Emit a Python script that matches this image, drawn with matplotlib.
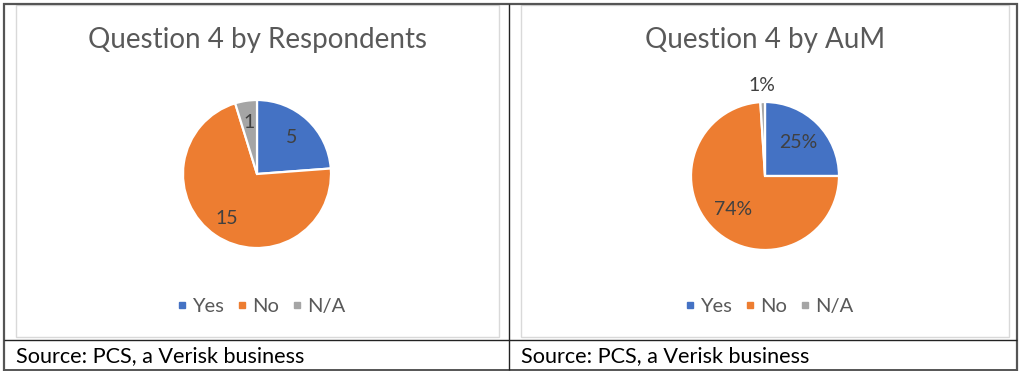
import numpy as np
import matplotlib
matplotlib.use("Agg")
import matplotlib.pyplot as plt
from matplotlib.lines import Line2D
from matplotlib.patches import Rectangle

# ---- data ----
categories = ["Yes", "No", "N/A"]
respondents = [5, 15, 1]
aum_pct = [25, 74, 1]
titles = ["Question 4 by Respondents", "Question 4 by AuM"]
source_text = "Source: PCS, a Verisk business"
colors = ["#4472C4", "#ED7D31", "#A5A5A5"]

plt.rcParams['font.family'] = ['Lato', 'DejaVu Sans']

W, H = 1024, 377
fig = plt.figure(figsize=(W / 100, H / 100), dpi=100)
fig.patch.set_facecolor("white")


def fx(x):
    return x / W


def fy(y):
    return 1 - y / H


# ---- table lines ----
def hline(y, x0, x1, color, lw):
    fig.add_artist(Line2D([fx(x0), fx(x1)], [fy(y), fy(y)], color=color, lw=lw,
                          transform=fig.transFigure, solid_capstyle="butt"))


def vline(x, y0, y1, color, lw):
    fig.add_artist(Line2D([fx(x), fx(x)], [fy(y0), fy(y1)], color=color, lw=lw,
                          transform=fig.transFigure, solid_capstyle="butt"))


# inner chart boxes (light gray)
for (x0, x1) in [(16, 499), (521, 1009)]:
    fig.add_artist(Rectangle((fx(x0), fy(337)), fx(x1) - fx(x0), fy(5) - fy(337),
                             transform=fig.transFigure, fill=False,
                             edgecolor="#D9D9D9", lw=1.0))

outer = "#555555"
hline(4, 3, 1018, outer, 1.6)
hline(370, 3, 1018, outer, 1.4)
vline(4, 3, 371, outer, 1.6)
vline(1017, 3, 371, outer, 1.6)
vline(509, 4, 370, "#222222", 1.0)
hline(340, 4, 1017, "#222222", 1.0)

# ---- pies ----
R_PIX = 74
LIM = 1.35
size = 2 * R_PIX * LIM


def draw_pie(cx, cy, values, labels_fmt, dists, title, title_x, leg_x):
    ax = fig.add_axes([fx(cx - size / 2), fy(cy + size / 2), size / W, size / H])
    wedges, _ = ax.pie(values, colors=colors, startangle=90, counterclock=False,
                       radius=1.0,
                       wedgeprops=dict(edgecolor="white", linewidth=1.6))
    ax.set_xlim(-LIM, LIM)
    ax.set_ylim(-LIM, LIM)
    ax.set_aspect("equal")
    ax.axis("off")
    for w, v, d in zip(wedges, values, dists):
        th = np.deg2rad((w.theta1 + w.theta2) / 2)
        ax.text(d * np.cos(th), d * np.sin(th), labels_fmt.format(v),
                ha="center", va="center", fontsize=14, color="#404040")
    fig.text(fx(title_x), fy(40), title, ha="center", va="center",
             fontsize=20, color="#595959")
    handles = [Line2D([], [], marker="s", linestyle="none", markersize=5,
                      markerfacecolor=c, markeredgecolor=c) for c in colors]
    fig.legend(handles, categories, loc="center", ncol=3,
               bbox_to_anchor=(fx(leg_x), fy(306)), frameon=False,
               fontsize=14.5, labelcolor="#595959", handlelength=0.35,
               handletextpad=0.35, columnspacing=0.7, borderpad=0)


draw_pie(257, 174, respondents, "{}", [0.68, 0.72, 0.71], titles[0], 257, 262)
draw_pie(765, 176, aum_pct, "{}%", [0.64, 0.63, 1.23], titles[1], 765, 770)

# ---- source row ----
for x in [16, 521]:
    fig.text(fx(x), fy(356), source_text, ha="left", va="center",
             fontsize=15.6, color="black")

fig.savefig("out.png", dpi=100, facecolor="white")
